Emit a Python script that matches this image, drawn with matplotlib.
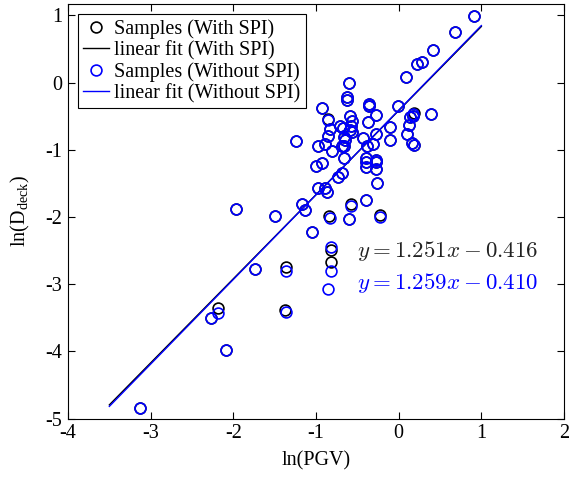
import matplotlib
matplotlib.use("Agg")
import matplotlib.pyplot as plt
import numpy as np

plt.rcParams['font.family'] = ['Liberation Serif', 'DejaVu Serif']
plt.rcParams['mathtext.fontset'] = 'custom'
plt.rcParams['mathtext.rm'] = 'Liberation Serif'
plt.rcParams['mathtext.it'] = 'Liberation Serif:italic'
plt.rcParams['axes.unicode_minus'] = False

# samples with SPI
x_spi = [0.91, 0.68, 0.41, 0.225, 0.28, 0.09, -0.60, -0.62, -0.62, -0.36,
         -0.36, -0.93, -0.01, -0.85, -0.59, -0.56, -0.28, -0.37, 0.18, 0.17,
         0.14, 0.39, -0.83, -0.71, -0.67, -0.58, -0.56, -0.59, -0.105, 0.13,
         0.10, -0.85, -0.66, -0.645, -0.435, -0.27, -0.10, -1.24, 0.165, 0.18,
         -0.98, -0.89, -0.81, -0.69, -0.66, -0.38, -0.31, -1.00, -0.93, -0.66,
         -0.395, -0.39, -0.27, -0.28, -0.40, -0.28, -0.73, -0.69, -0.26, -0.97,
         -0.89, -0.87, -0.40, -0.58, -1.17, -1.13, -1.97, -1.50, -0.84, -0.60,
         -0.23, -1.05, -0.82, -0.82, -1.74, -1.36, -2.19, -2.27, -1.37, -2.09,
         -3.13]
y_spi = [0.99, 0.75, 0.48, 0.28, 0.30, 0.09, 0.00, -0.22, -0.26, -0.32,
         -0.35, -0.38, -0.35, -0.54, -0.49, -0.57, -0.48, -0.58, -0.45, -0.49,
         -0.51, -0.47, -0.69, -0.64, -0.67, -0.64, -0.73, -0.70, -0.66, -0.63,
         -0.76, -0.79, -0.81, -0.85, -0.83, -0.77, -0.85, -0.87, -0.90, -0.93,
         -0.95, -0.91, -1.01, -0.95, -0.94, -0.95, -0.91, -1.24, -1.19, -1.12,
         -1.12, -1.18, -1.18, -1.15, -1.25, -1.29, -1.40, -1.35, -1.50, -1.57,
         -1.57, -1.62, -1.74, -1.80, -1.81, -1.89, -1.88, -1.99, -1.99, -2.03,
         -1.97, -2.22, -2.49, -2.67, -2.78, -2.74, -3.35, -3.50, -3.38, -3.98,
         -4.84]

# samples without SPI
x_nospi = [0.91, 0.68, 0.41, 0.225, 0.28, 0.09, -0.60, -0.62, -0.62, -0.36,
           -0.36, -0.93, -0.01, -0.85, -0.59, -0.56, -0.28, -0.37, 0.17, 0.17,
           0.14, 0.39, -0.83, -0.71, -0.67, -0.58, -0.56, -0.59, -0.105, 0.13,
           0.10, -0.85, -0.66, -0.645, -0.435, -0.27, -0.10, -1.24, 0.165, 0.18,
           -0.98, -0.89, -0.81, -0.69, -0.66, -0.38, -0.31, -1.00, -0.93, -0.66,
           -0.395, -0.39, -0.27, -0.28, -0.40, -0.28, -0.73, -0.69, -0.26, -0.97,
           -0.89, -0.87, -0.40, -0.58, -1.17, -1.13, -1.97, -1.50, -0.83, -0.60,
           -0.23, -1.05, -0.82, -0.82, -0.86, -1.74, -1.36, -2.18, -2.27, -1.36,
           -2.09, -3.13]
y_nospi = [0.99, 0.75, 0.48, 0.28, 0.30, 0.09, 0.00, -0.22, -0.26, -0.32,
           -0.35, -0.38, -0.35, -0.55, -0.49, -0.57, -0.48, -0.58, -0.47, -0.49,
           -0.51, -0.47, -0.69, -0.64, -0.67, -0.64, -0.73, -0.70, -0.66, -0.63,
           -0.76, -0.79, -0.81, -0.85, -0.83, -0.77, -0.85, -0.87, -0.90, -0.93,
           -0.95, -0.91, -1.01, -0.95, -0.94, -0.95, -0.91, -1.24, -1.19, -1.12,
           -1.12, -1.18, -1.18, -1.15, -1.25, -1.29, -1.40, -1.35, -1.50, -1.57,
           -1.57, -1.62, -1.74, -1.83, -1.81, -1.89, -1.88, -1.99, -2.02, -2.03,
           -2.00, -2.22, -2.45, -2.80, -3.07, -2.78, -2.80, -3.42, -3.50, -3.41,
           -3.98, -4.84]

# linear fits: slope, intercept
fit_spi = [1.251, -0.416]
fit_nospi = [1.259, -0.410]
fit_range = [-3.5, 1.0]

fig = plt.figure(figsize=(5.73, 4.82), dpi=100)
ax = fig.add_axes([0.1187, 0.1313, 0.8656, 0.8604])

xf = np.array(fit_range)
ax.plot(x_spi, y_spi, 'o', mfc='none', mec='black', ms=7.8, mew=1.2,
        label='Samples (With SPI)')
ax.plot(xf, fit_spi[0] * xf + fit_spi[1], '-', color='black', lw=1.0,
        label='linear fit (With SPI)')
ax.plot(x_nospi, y_nospi, 'o', mfc='none', mec='blue', ms=7.8, mew=1.2,
        label='Samples (Without SPI)')
ax.plot(xf, fit_nospi[0] * xf + fit_nospi[1], '-', color='blue', lw=1.0,
        label='linear fit (Without SPI)')

ax.text(-0.50, -2.51, r'$y = %.3fx - %.3f$' % (fit_spi[0], -fit_spi[1]),
        color='#222222', fontsize=16.5, va='center', math_fontfamily='cm')
ax.text(-0.50, -2.98, r'$y = %.3fx - %.3f$' % (fit_nospi[0], -fit_nospi[1]),
        color='blue', fontsize=16.5, va='center', math_fontfamily='cm')

ax.set_xlim(-4, 2)
ax.set_ylim(-5, 1.17)
ax.set_xticks([-4, -3, -2, -1, 0, 1, 2])
ax.set_yticks([-5, -4, -3, -2, -1, 0, 1])
ax.tick_params(direction='in', top=True, right=True, labelsize=14.5, length=5,
               pad=4)
ax.set_xlabel('ln(PGV)', fontsize=14.5, labelpad=6)
ax.set_ylabel(r'ln(D$_{\mathrm{deck}}$)', fontsize=14.5, labelpad=10)

leg = ax.legend(loc='upper left', fontsize=14.5, fancybox=False, edgecolor='black',
                framealpha=1, handlelength=1.3, handletextpad=0.25,
                labelspacing=0.1, borderpad=0.25, borderaxespad=0.5,
                numpoints=1)
leg.get_frame().set_linewidth(0.8)

fig.savefig('out.png', dpi=100)
